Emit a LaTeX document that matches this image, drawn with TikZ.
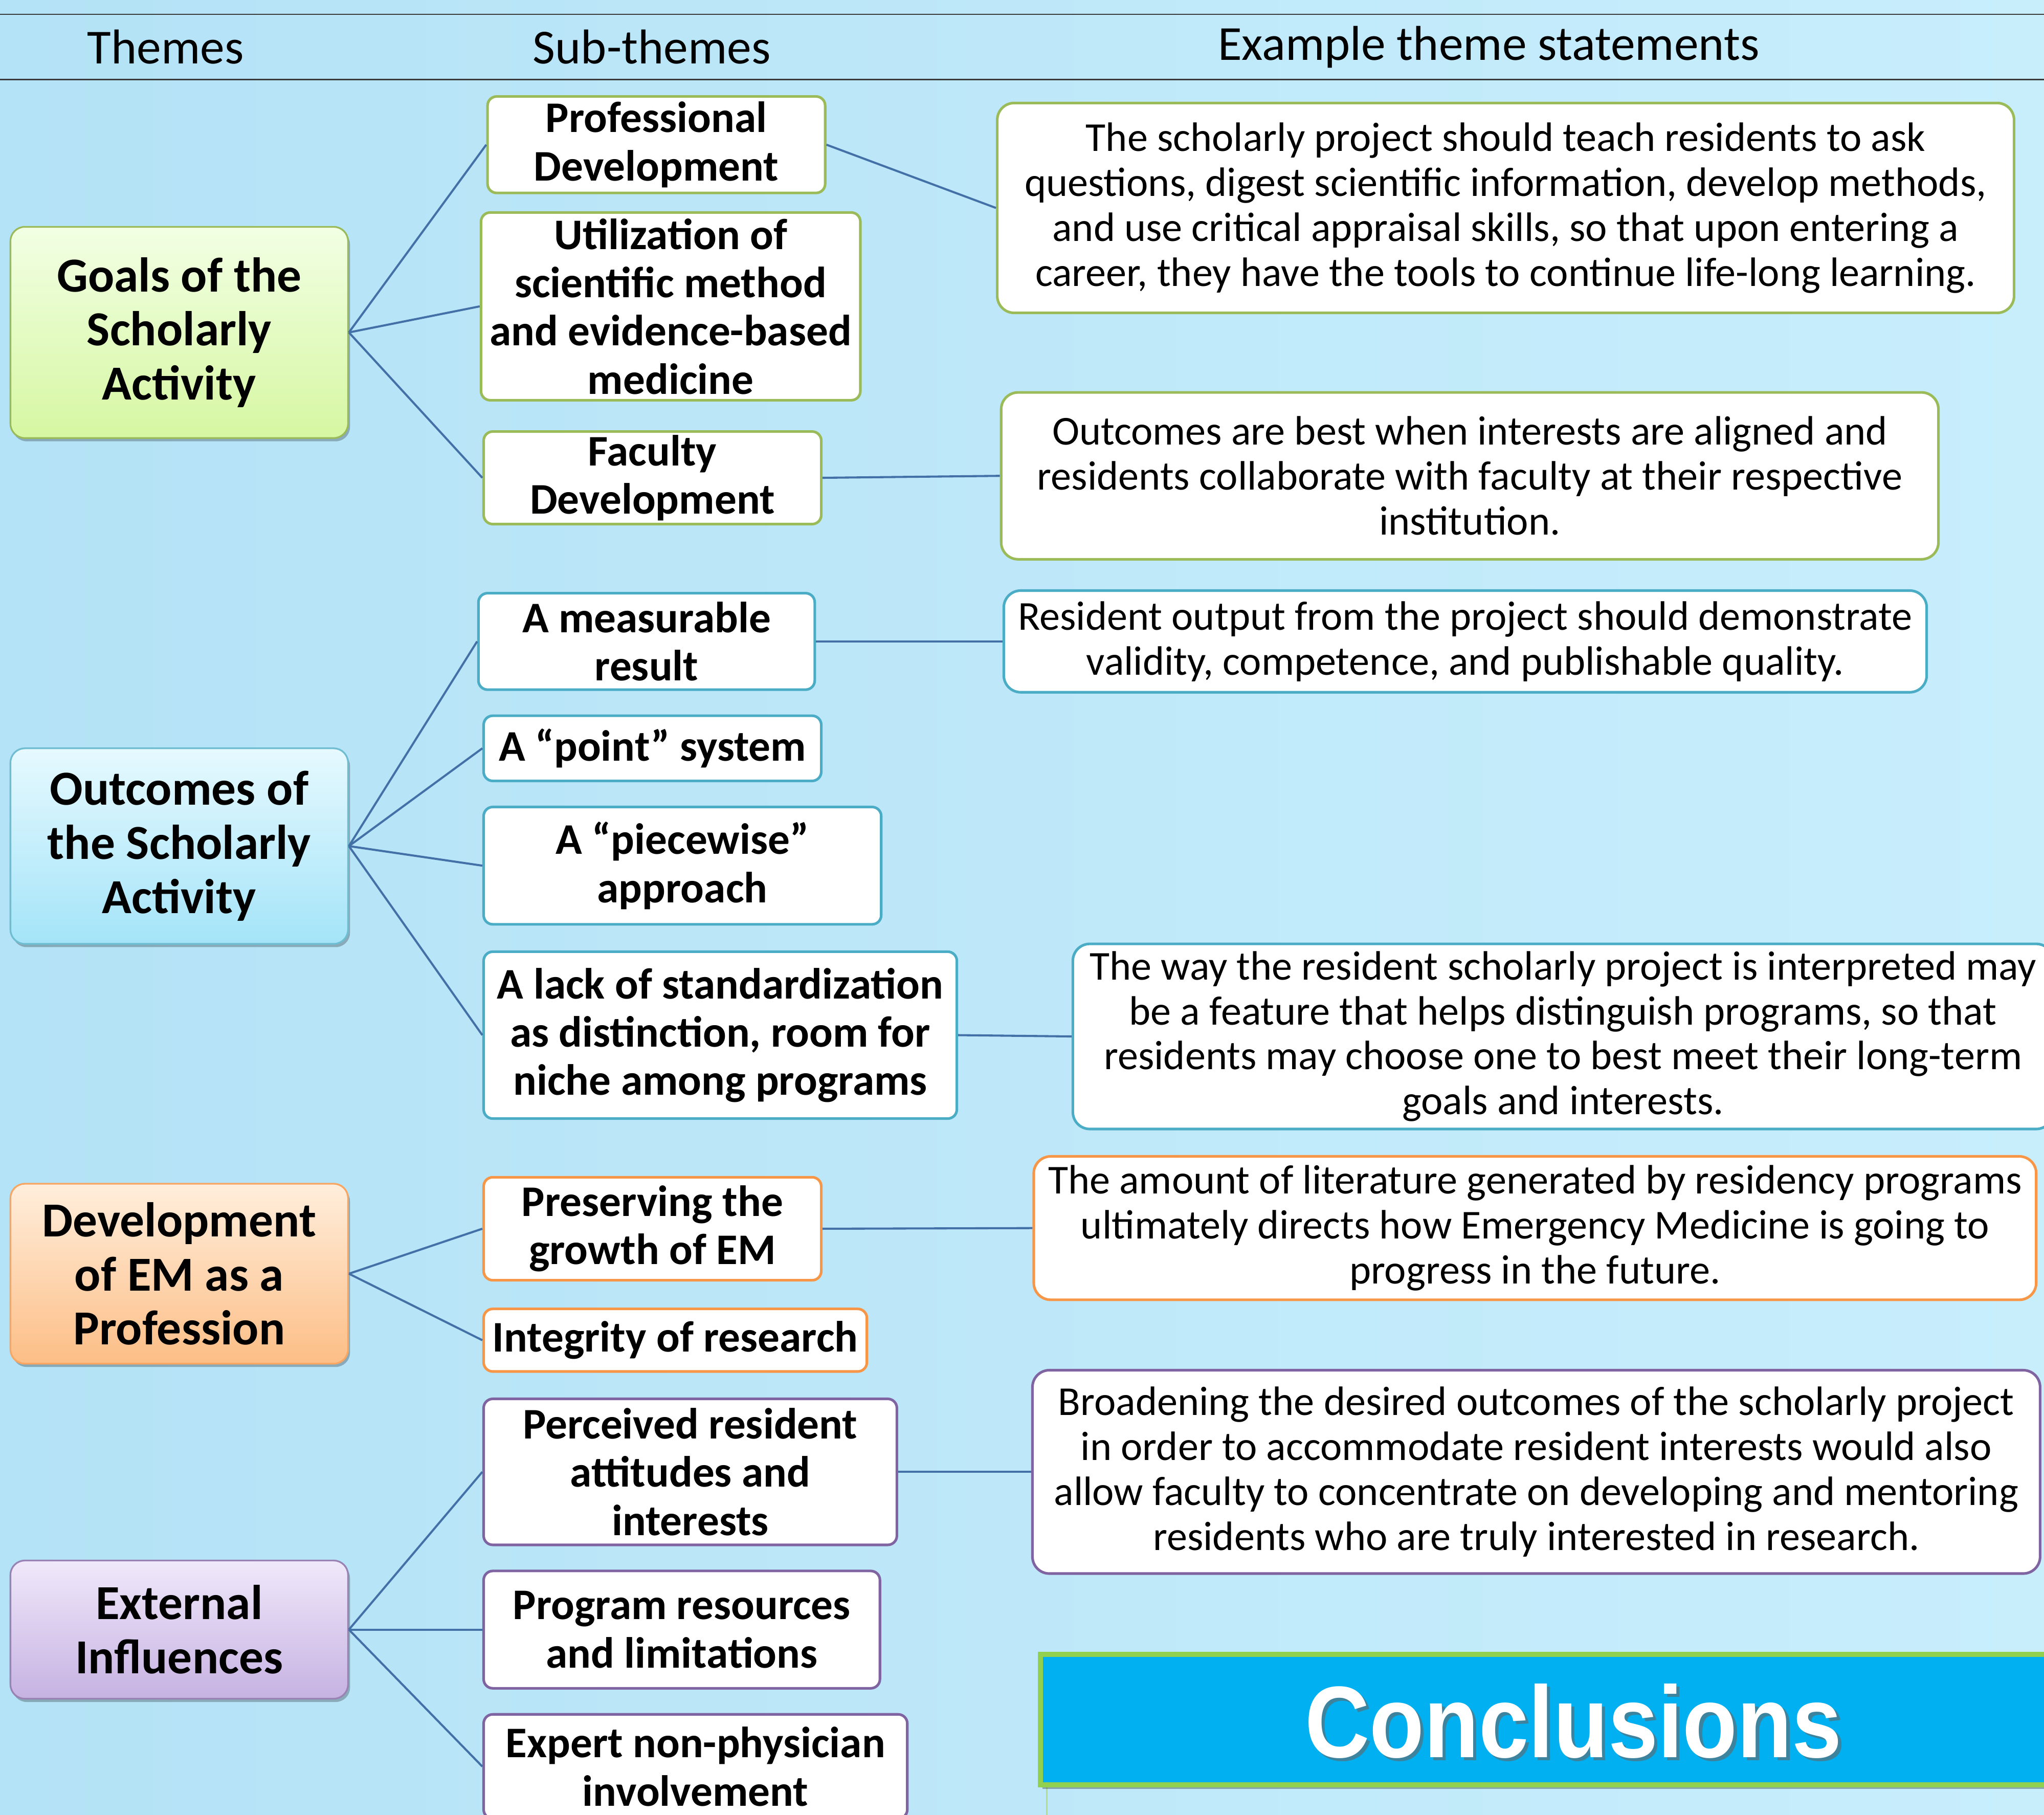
\documentclass[tikz,border=0pt]{standalone}
\usepackage{fontspec}
\setmainfont{Carlito}
\newfontfamily\arialfont{Liberation Sans}
\usetikzlibrary{shadows}
\definecolor{bgL}{HTML}{B4E2F6}
\definecolor{bgR}{HTML}{C8EEFC}
\definecolor{connC}{HTML}{4470A8}
\definecolor{grnB}{HTML}{9BBB59}
\definecolor{bluB}{HTML}{4BACC6}
\definecolor{orgB}{HTML}{F79646}
\definecolor{purB}{HTML}{8064A2}
\definecolor{grnT}{HTML}{F2FFE4}
\definecolor{grnD}{HTML}{D6F7A2}
\definecolor{bluT}{HTML}{E6F9FF}
\definecolor{bluD}{HTML}{A4E4F8}
\definecolor{orgT}{HTML}{FFEEDC}
\definecolor{orgD}{HTML}{FCBE86}
\definecolor{purT}{HTML}{F0E8FA}
\definecolor{purD}{HTML}{C6B2E2}
\definecolor{conclF}{HTML}{00B0F0}
\definecolor{conclB}{HTML}{92D050}
\definecolor{hdrL}{HTML}{3A3A3A}
\newcommand{\themefnt}{\fontsize{37.5}{41.5}\selectfont\bfseries}
\newcommand{\subfnt}{\fontsize{33.5}{37}\selectfont\bfseries}
\newcommand{\stmtfnt}{\fontsize{31.5}{34.5}\selectfont}
\newcommand{\hdrfnt}{\fontsize{37.5}{40}\selectfont}
\begin{document}
\begin{tikzpicture}[x=1pt,y=-1pt,
  themebox/.style={draw, line width=1.3pt, rounded corners=11pt, align=center,
    font=\themefnt, inner sep=0pt,
    drop shadow={shadow xshift=1.5pt, shadow yshift=-2.5pt, opacity=0.25, fill=black}},
  subbox/.style={draw, fill=white, line width=2pt, rounded corners=7pt, align=center,
    font=\subfnt, inner sep=0pt},
  stmtbox/.style={draw, fill=white, line width=2pt, rounded corners=13pt, align=center,
    font=\stmtfnt, inner sep=0pt},
  hdrtxt/.style={font=\hdrfnt, inner sep=0pt},
  conn/.style={draw=connC, line width=1.6pt}]
\useasboundingbox (0,0) rectangle (1568,1392);
\clip (0,0) rectangle (1568,1392);
\shade[left color=bgL, right color=bgR] (0,0) rectangle (1568,1392);

% header
\coordinate (hl1a) at (0,11); \coordinate (hl1b) at (1568,11);
\coordinate (hl2a) at (0,61); \coordinate (hl2b) at (1568,61);
\draw[hdrL, line width=1pt] (hl1a) -- (hl1b);
\draw[hdrL, line width=1pt] (hl2a) -- (hl2b);
\node[hdrtxt] (h1) at (127,36) {Themes};
\node[hdrtxt] (h2) at (500,36) {Sub-themes};
\node[hdrtxt] (h3) at (1142,36) {Example theme statements};

% themes
\node[themebox, draw=grnB, top color=grnT, bottom color=grnD, minimum width=259, minimum height=162]
  (goals) at (137.5,255) {Goals of the\\Scholarly\\Activity};
\node[themebox, draw=bluB!80, top color=bluT, bottom color=bluD, minimum width=259, minimum height=150]
  (outc) at (137.5,649) {Outcomes of\\the Scholarly\\Activity};
\node[themebox, draw=orgB!85, top color=orgT, bottom color=orgD, minimum width=259, minimum height=138]
  (devem) at (137.5,977) {Development\\of EM as a\\Profession};
\node[themebox, draw=purB!80, top color=purT, bottom color=purD, minimum width=259, minimum height=106]
  (extin) at (137.5,1250) {External\\Influences};

% sub-themes
\node[subbox, draw=grnB, minimum width=259, minimum height=74] (pd) at (503.5,111) {Professional\\Development};
\node[subbox, draw=grnB, minimum width=291, minimum height=144] (usm) at (514.5,235) {Utilization of\\scientific method\\and evidence-based\\medicine};
\node[subbox, draw=grnB, minimum width=259, minimum height=71] (fd) at (500.5,366.5) {Faculty\\Development};

\node[subbox, draw=bluB, minimum width=258, minimum height=74] (mr) at (496,492) {A measurable\\result};
\node[subbox, draw=bluB, minimum width=259, minimum height=50] (ps) at (500.5,574) {A “point” system};
\node[subbox, draw=bluB, minimum width=305, minimum height=90] (pw) at (523.5,664) {A “piecewise”\\approach};
\node[subbox, draw=bluB, minimum width=363, minimum height=128] (ls) at (552.5,794) {A lack of standardization\\as distinction, room for\\niche among programs};

\node[subbox, draw=orgB, minimum width=259, minimum height=79] (pg) at (500.5,942.5) {Preserving the\\growth of EM};
\node[subbox, draw=orgB, minimum width=294, minimum height=48] (ir) at (518,1028) {Integrity of research};

\node[subbox, draw=purB, minimum width=317, minimum height=112] (pr) at (529.5,1129) {Perceived resident\\attitudes and\\interests};
\node[subbox, draw=purB, minimum width=304, minimum height=90] (prl) at (523,1250) {Program resources\\and limitations};
\node[subbox, draw=purB, minimum width=325, minimum height=80] (en) at (533.5,1355) {Expert non-physician\\involvement};

% statements
\node[stmtbox, draw=grnB, minimum width=780, minimum height=161] (s1) at (1155,159.5)
  {The scholarly project should teach residents to ask\\questions, digest scientific information, develop methods,\\and use critical appraisal skills, so that upon entering a\\career, they have the tools to continue life-long learning.};
\node[stmtbox, draw=grnB, minimum width=719, minimum height=128] (s2) at (1127.5,365)
  {Outcomes are best when interests are aligned and\\residents collaborate with faculty at their respective\\institution.};
\node[stmtbox, draw=bluB, minimum width=708, minimum height=78] (s3) at (1124,492)
  {Resident output from the project should demonstrate\\validity, competence, and publishable quality.};
\node[stmtbox, draw=bluB, minimum width=752, minimum height=142] (s4) at (1199,795)
  {The way the resident scholarly project is interpreted may\\be a feature that helps distinguish programs, so that\\residents may choose one to best meet their long-term\\goals and interests.};
\node[stmtbox, draw=orgB, minimum width=769, minimum height=110] (s5) at (1177.5,942)
  {The amount of literature generated by residency programs\\ultimately directs how Emergency Medicine is going to\\progress in the future.};
\node[stmtbox, draw=purB, minimum width=773, minimum height=156] (s6) at (1178.5,1129)
  {Broadening the desired outcomes of the scholarly project\\in order to accommodate resident interests would also\\allow faculty to concentrate on developing and mentoring\\residents who are truly interested in research.};

% conclusions
\node[draw=conclB!70, line width=1pt, minimum width=800, minimum height=100, inner sep=0pt] (below) at (1203,1420) {};
\node[draw=conclB, fill=conclF, line width=4pt, minimum width=822, minimum height=100,
  drop shadow={shadow xshift=1.5pt, shadow yshift=-3pt, opacity=0.3, fill=black}] (concl) at (1209,1319) {};
\node[text=black!60, opacity=0.6, font=\arialfont\bfseries\fontsize{78}{80}\selectfont, xscale=0.88] (conclsh) at (1209.5,1322.5) {Conclusions};
\node[text=white, font=\arialfont\bfseries\fontsize{78}{80}\selectfont, xscale=0.88] (concltxt) at (1207,1320) {Conclusions};

% connectors
\foreach \t in {pd,usm,fd} \draw[conn] (goals.east) -- (\t.west);
\foreach \t in {mr,ps,pw,ls} \draw[conn] (outc.east) -- (\t.west);
\foreach \t in {pg,ir} \draw[conn] (devem.east) -- (\t.west);
\foreach \t in {pr,prl,en} \draw[conn] (extin.east) -- (\t.west);
\draw[conn] (pd.east) -- (s1.west);
\draw[conn] (fd.east) -- (s2.west);
\draw[conn] (mr.east) -- (s3.west);
\draw[conn] (ls.east) -- (s4.west);
\draw[conn] (pg.east) -- (s5.west);
\draw[conn] (pr.east) -- (s6.west);
\end{tikzpicture}
\end{document}
